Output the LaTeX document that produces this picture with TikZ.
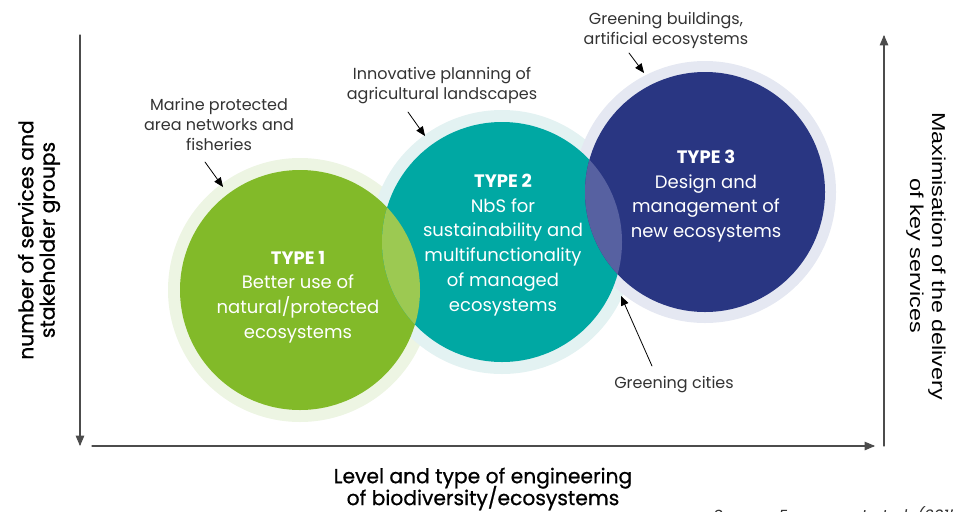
\documentclass[tikz,border=0pt]{standalone}
\usepackage{fontspec}
\setmainfont{Poppins}
\newfontfamily\poppinsmed[FakeBold=0.8]{Poppins}
\newfontfamily\arialfont[FakeStretch=1.25]{Liberation Sans}
\usepackage{tikz}
\usetikzlibrary{arrows}
\definecolor{ggbbqq}{rgb}{0.51,0.73,0.16}
\definecolor{eeffee}{rgb}{0.93,0.96,0.89}
\definecolor{ccddqq}{rgb}{0.61,0.79,0.32}
\definecolor{qqaaaa}{rgb}{0.,0.66,0.64}
\definecolor{eeffff}{rgb}{0.89,0.95,0.95}
\definecolor{wwwwhh}{rgb}{0.16,0.21,0.51}
\definecolor{ddddee}{rgb}{0.90,0.91,0.95}
\definecolor{hhhhcc}{rgb}{0.34,0.38,0.63}
\definecolor{ttttww}{rgb}{0.2,0.2,0.2}
\definecolor{hhhhhh}{rgb}{0.3,0.3,0.3}
\tikzset{
  typetext/.style={align=center,text=white,font=\fontsize{13.5}{18.6}\selectfont},
  notetext/.style={align=center,text=ttttww,font=\fontsize{12}{15}\selectfont},
  axistext/.style={align=center,text=black,font=\poppinsmed\fontsize{15.2}{16}\selectfont},
  pointer/.style={->,line width=0.6pt,black},
  axis/.style={->,line width=0.8pt,hhhhhh}
}
\begin{document}
\begin{tikzpicture}[line cap=round,line join=round,>=triangle 45,x=0.75pt,y=-0.75pt]
\useasboundingbox (0,0) rectangle (953,511);
\coordinate (c1) at (300,290);
\coordinate (c2) at (502,242);
\coordinate (c3) at (705,192);
% pale rings
\fill [eeffee] (c1) circle (132);
\fill [eeffff] (c2) circle (132);
\fill [ddddee] (c3) circle (131);
% discs
\fill [ggbbqq] (c1) circle (120);
\fill [qqaaaa] (c2) circle (120);
\fill [wwwwhh] (c3) circle (120);
\begin{scope}
\clip (c1) circle (120);
\fill [ccddqq] (c2) circle (120);
\end{scope}
\begin{scope}
\clip (c3) circle (120);
\fill [hhhhcc] (c2) circle (120);
\end{scope}
% texts in discs
\node [typetext] (type1) at (298,297) {\textbf{TYPE 1}\\Better use of\\natural/protected\\ecosystems};
\node [typetext] (type2) at (503,245) {\textbf{TYPE 2}\\NbS for\\sustainability and\\multifunctionality\\of managed\\ecosystems};
\node [typetext] (type3) at (706,196) {\textbf{TYPE 3}\\Design and\\management of\\new ecosystems};
% notes
\node [notetext] (mpa) at (219,124) {Marine protected\\area networks and\\fisheries};
\node [notetext] (agri) at (442,86) {Innovative planning of\\agricultural landscapes};
\node [notetext] (build) at (666,30) {Greening buildings,\\artificial ecosystems};
\node [notetext] (cities) at (674,385) {Greening cities};
\coordinate (mpatail) at (205,162);
\coordinate (mpatip) at (223,187);
\coordinate (agritail) at (408,112);
\coordinate (agritip) at (425,136);
\coordinate (buildtail) at (629,53);
\coordinate (buildtip) at (644,73);
\coordinate (citiestail) at (652,366);
\coordinate (citiestip) at (621,296);
\draw [pointer] (mpatail) -- (mpatip);
\draw [pointer] (agritail) -- (agritip);
\draw [pointer] (buildtail) -- (buildtip);
\draw [pointer] (citiestail) -- (citiestip);
% axes
\coordinate (ltop) at (80,35);
\coordinate (lbot) at (80,446);
\coordinate (bleft) at (92,446);
\coordinate (bright) at (875,446);
\coordinate (rbot) at (884,446);
\coordinate (rtop) at (884,35);
\draw [axis] (ltop) -- (lbot);
\draw [axis] (bleft) -- (bright);
\draw [axis] (rbot) -- (rtop);
\node [axistext,rotate=90] (ylabel) at (39,240) {number of services and\\stakeholder groups};
\node [axistext,rotate=-90,font=\arialfont\fontsize{14}{16.5}\selectfont] (rlabel) at (926,256) {Maximisation of the delivery\\of key services};
\node [axistext] (xlabel) at (483,489) {Level and type of engineering\\[-3pt]of biodiversity/ecosystems};
\node [anchor=base west,text=ttttww,font=\itshape\fontsize{12}{14}\selectfont] (source) at (709,521) {Source: Eggermont et al. (2015, GAIA)};
\end{tikzpicture}
\end{document}
